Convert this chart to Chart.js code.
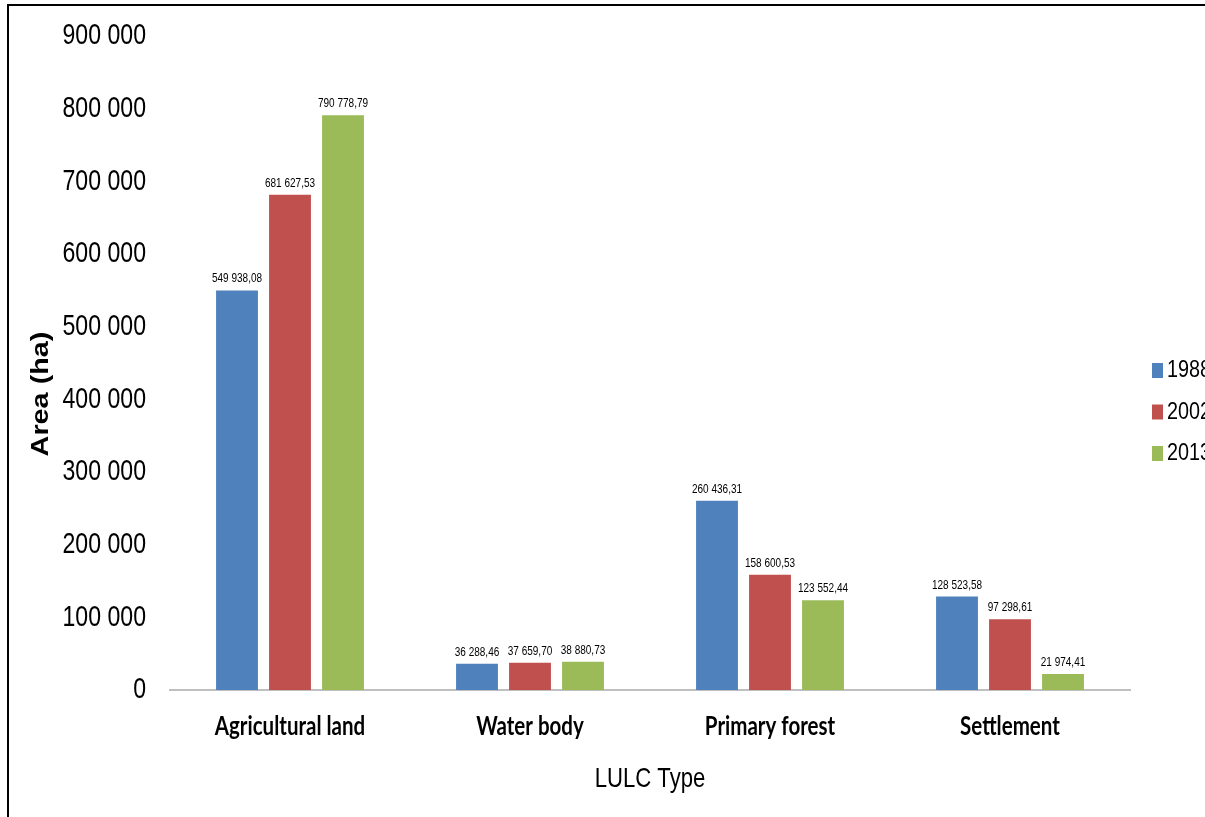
<!DOCTYPE html>
<html>
<head>
<meta charset="utf-8">
<script src="https://cdn.jsdelivr.net/npm/chart.js@4/dist/chart.umd.min.js"></script>
<style>
  html, body { margin: 0; padding: 0; background: #fff; overflow: hidden; }
  #wrap { position: relative; width: 1205px; height: 817px; }
</style>
</head>
<body>
<div id="wrap"><canvas id="c" width="1205" height="817"></canvas></div>
<script>
// Land use / land cover classes and area per survey year (ha)
const categories = ['Agricultural land', 'Water body', 'Primary forest', 'Settlement'];
const years = ['1988', '2002', '2013'];
const area1988 = [549938.08, 36288.46, 260436.31, 128523.58];
const area2002 = [681627.53, 37659.70, 158600.53, 97298.61];
const area2013 = [790778.79, 38880.73, 123552.44, 21974.41];
const yTicks = [0, 100000, 200000, 300000, 400000, 500000, 600000, 700000, 800000, 900000];

const colors = ['#4F81BD', '#C0504D', '#9BBB59'];
const SANS = '"Liberation Sans", Arial, sans-serif';
const SQUEEZE = 0.77;   // narrow letterforms: horizontal text scale

// "549 938,08" style: space as thousands separator, comma as decimal mark
function fmt(v, decimals) {
  const s = v.toFixed(decimals);
  const [intPart, dec] = s.split('.');
  const grouped = intPart.replace(/\B(?=(\d{3})+(?!\d))/g, ' ');
  return dec ? grouped + ',' + dec : grouped;
}

// fill text narrowed horizontally around its anchor point
function narrowText(ctx, text, x, y, sx) {
  ctx.save();
  ctx.translate(x, y);
  ctx.scale(sx, 1);
  ctx.fillText(text, 0, 0);
  ctx.restore();
}

const extras = {
  id: 'extras',
  afterLayout(chart) {
    // draw the y tick labels with narrowed glyphs, anchored at their right edge
    const ys = chart.scales.y;
    if (!ys._narrowed) {
      const base = ys.drawLabels;
      ys.drawLabels = function (area) {
        const ctx = this.ctx;
        const ax = this.right - this.options.ticks.padding;
        ctx.save();
        ctx.translate(ax, 0);
        ctx.scale(SQUEEZE, 1);
        ctx.translate(-ax, 0);
        base.call(this, area);
        ctx.restore();
      };
      ys._narrowed = true;
    }
  },
  afterDatasetsDraw(chart) {
    const ctx = chart.ctx;
    ctx.save();
    // value labels above bars
    ctx.font = '13px ' + SANS;
    ctx.fillStyle = '#000';
    ctx.textAlign = 'center';
    ctx.textBaseline = 'alphabetic';
    chart.data.datasets.forEach((ds, di) => {
      chart.getDatasetMeta(di).data.forEach((bar, i) => {
        narrowText(ctx, fmt(ds.data[i], 2), bar.x, bar.y - 8, SQUEEZE);
      });
    });
    ctx.restore();
  },
  afterDraw(chart) {
    const ctx = chart.ctx;
    const xs = chart.scales.x;
    ctx.save();
    // outer frame (top and left edges)
    ctx.strokeStyle = '#000';
    ctx.lineWidth = 2;
    ctx.beginPath();
    ctx.moveTo(8, 817);
    ctx.lineTo(8, 5);
    ctx.lineTo(1205, 5);
    ctx.stroke();

    ctx.fillStyle = '#000';
    ctx.textAlign = 'center';
    ctx.textBaseline = 'alphabetic';

    // category labels
    ctx.font = 'bold 27px Lato, ' + SANS;
    categories.forEach((c, i) => {
      narrowText(ctx, c, xs.getPixelForTick(i), 735, 0.76);
    });

    // x-axis title
    ctx.font = '28px ' + SANS;
    narrowText(ctx, 'LULC Type', (xs.left + xs.right) / 2, 787, 0.79);

    // y-axis title (rotated, stretched along its length)
    ctx.font = 'bold 24px ' + SANS;
    ctx.textBaseline = 'middle';
    ctx.save();
    ctx.translate(41, 394);
    ctx.rotate(-Math.PI / 2);
    ctx.scale(1.2, 1);
    ctx.fillText('Area (ha)', 0, 0);
    ctx.restore();

    // legend
    ctx.font = '23px ' + SANS;
    ctx.textAlign = 'left';
    ctx.textBaseline = 'middle';
    chart.data.datasets.forEach((ds, i) => {
      const y = 371 + i * 41.5;
      ctx.fillStyle = ds.backgroundColor;
      ctx.fillRect(1152, y - 8, 11, 15);
      ctx.fillStyle = '#000';
      narrowText(ctx, ds.label, 1167, y, 0.86);
    });
    ctx.restore();
  }
};

new Chart(document.getElementById('c'), {
  type: 'bar',
  data: {
    labels: categories,
    datasets: [
      { label: years[0], data: area1988, backgroundColor: colors[0] },
      { label: years[1], data: area2002, backgroundColor: colors[1] },
      { label: years[2], data: area2013, backgroundColor: colors[2] }
    ]
  },
  options: {
    responsive: false,
    animation: false,
    devicePixelRatio: 1,
    layout: { padding: { left: 0, top: 36, right: 75, bottom: 0 } },
    datasets: {
      bar: { categoryPercentage: 0.6625, barPercentage: 0.79 }
    },
    plugins: {
      legend: { display: false },
      tooltip: { enabled: false }
    },
    scales: {
      x: {
        grid: { display: false, drawTicks: false },
        border: { display: true, color: '#BFBFBF', width: 2 },
        ticks: { display: false },
        afterFit(scale) { scale.height = 127; }
      },
      y: {
        min: 0,
        max: 900000,
        grid: { display: false, drawTicks: false },
        border: { display: false },
        afterBuildTicks(scale) { scale.ticks = yTicks.map(v => ({ value: v })); },
        ticks: {
          color: '#000',
          padding: 24,
          font: { family: SANS, size: 30 },
          callback: v => fmt(v, 0)
        },
        afterFit(scale) {
          scale.width = 170;
          scale.paddingTop = 0;
          scale.paddingBottom = 0;
        }
      }
    }
  },
  plugins: [extras]
});
</script>
</body>
</html>
